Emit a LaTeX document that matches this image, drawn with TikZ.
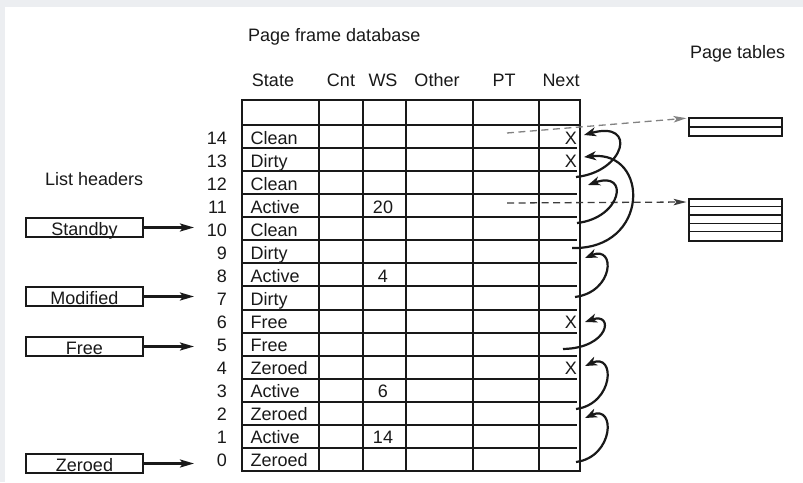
\documentclass[tikz,border=0pt]{standalone}
\usepackage{fontspec}
\setmainfont{Liberation Sans}
\usetikzlibrary{arrows.meta}
\definecolor{bggray}{RGB}{236,238,241}
\definecolor{ink}{RGB}{25,25,25}
\definecolor{dashgray}{RGB}{130,130,130}
\newcommand\fsz{\fontsize{18pt}{21pt}\selectfont}
\tikzset{
  txt/.style={inner sep=0pt, font=\fsz, text=ink},
  tline/.style={line width=2pt, draw=ink},
  hdrbox/.style={draw=ink, line width=1.8pt, minimum width=117pt, minimum height=19pt,
    inner sep=0pt, text height=15pt, text depth=0pt, font=\fsz, text=ink},
  harrow/.style={line width=2.5pt, draw=ink, -{Stealth[length=14pt,width=8pt,inset=3pt]}},
  nextarr/.style={line width=2.2pt, draw=ink, -{Stealth[length=12pt,width=9pt,inset=3.5pt]}},
  ptarr/.style={line width=1.3pt, dash pattern=on 7pt off 4.5pt, -{Stealth[length=13pt,width=6.5pt,inset=3pt]}},
  ptab/.style={draw=ink, line width=2pt, minimum width=93pt, inner sep=0pt},
}
\begin{document}
\begin{tikzpicture}[x=1pt,y=-1pt]
\useasboundingbox (0,0) rectangle (803,482);
\fill[bggray] (0,0) rectangle (803,482);
\fill[white] (5,7) rectangle (803,482);

% titles
\node[txt, anchor=base west] (title) at (248,41.5) {Page frame database};
\node[txt, anchor=base west] (pttitle) at (690,58.5) {Page tables};
\node[txt, anchor=base west] (lhtitle) at (45,185.5) {List headers};

% column headers
\foreach \cx/\nm/\tx in {273/hstate/State, 341/hcnt/Cnt, 383/hws/WS, 437/hother/Other, 504/hpt/PT, 561/hnext/Next}
  \node[txt, anchor=base] (\nm) at (\cx,86.5) {\tx};

% table grid
\foreach \vx in {242,319,363,406,473,539,580}
  \draw[tline] (\vx,100) -- (\vx,471);
\draw[tline] (241,100) -- (581,100);
\draw[tline] (242,125) -- (580,125);
\foreach \k in {1,...,14}{
  \pgfmathsetmacro\yy{125+\k*23.07}
  \draw[tline] (242,\yy) -- (577,\yy);
}
\draw[tline] (241,471) -- (581,471);

% rows
\foreach \r/\s/\w/\x in {14/Clean//X, 13/Dirty//X, 12/Clean//, 11/Active/20/, 10/Clean//,
  9/Dirty//, 8/Active/4/, 7/Dirty//, 6/Free//X, 5/Free//, 4/Zeroed//X, 3/Active/6/,
  2/Zeroed//, 1/Active/14/, 0/Zeroed//}{
  \pgfmathsetmacro\yb{125+(14-\r)*23.07+19}
  \node[txt, anchor=base east] (n\r) at (227,\yb) {\r};
  \node[txt, anchor=base west] (s\r) at (250.5,\yb) {\s};
  \node[txt, anchor=base] (w\r) at (383,\yb) {\w};
  \node[txt, anchor=base east] (x\r) at (577,\yb) {\x};
}

% list headers
\node[hdrbox] (standby) at (84.5,227.5) {Standby};
\node[hdrbox] (modified) at (84.5,296.5) {Modified};
\node[hdrbox] (free) at (84.5,346.5) {Free};
\node[hdrbox] (zeroed) at (84.5,463.5) {Zeroed};
\coordinate (a10) at (194,227.5);
\coordinate (a7) at (194,296.5);
\coordinate (a5) at (194,346.5);
\coordinate (a0) at (194,463.5);
\draw[harrow] (standby.east) -- (a10);
\draw[harrow] (modified.east) -- (a7);
\draw[harrow] (free.east) -- (a5);
\draw[harrow] (zeroed.east) -- (a0);

% page tables
\node[ptab, minimum height=18pt] (pt1) at (735.5,126.7) {};
\draw[line width=1.6pt, draw=ink] (pt1.west) -- (pt1.east);
\node[ptab, minimum height=41.7pt] (pt2) at (735.5,220.15) {};
\foreach \k in {1,...,4}
  \draw[line width=1.6pt, draw=ink] ([yshift=-\k*8.34pt]pt2.north west) -- ([yshift=-\k*8.34pt]pt2.north east);

\coordinate (p14) at (507,133);
\coordinate (p11) at (507,203);
\draw[ptarr, draw=dashgray, color=dashgray] (p14) -- ([shift={(-1.5,1.5)}]pt1.north west);
\draw[ptarr, draw=ink!85, color=ink!85] (p11) -- ([shift={(-1.5,3.7)}]pt2.north west);

% next pointers
\coordinate (s12) at (576,177);  \coordinate (t14) at (584,135);
\coordinate (s10) at (577,223);  \coordinate (t12) at (588,185);
\coordinate (s9)  at (572,248);  \coordinate (t13) at (584,157);
\coordinate (s7)  at (575,297);  \coordinate (t9)  at (585,258);
\coordinate (s5)  at (563,349);  \coordinate (t6)  at (585,322);
\coordinate (s2)  at (576,409);  \coordinate (t4)  at (585,366);
\coordinate (s0)  at (576,462);  \coordinate (t2)  at (585,418);
\draw[nextarr] (s12) .. controls (625,172) and (638,120) .. (t14);
\draw[nextarr] (s10) .. controls (622,218) and (630,170) .. (t12);
\draw[nextarr] (s9)  .. controls (650,250) and (650,150) .. (t13);
\draw[nextarr] (s7)  .. controls (614,292) and (616,245) .. (t9);
\draw[nextarr] (s5)  .. controls (610,348) and (614,312) .. (t6);
\draw[nextarr] (s2)  .. controls (614,404) and (616,352) .. (t4);
\draw[nextarr] (s0)  .. controls (614,457) and (616,404) .. (t2);
\end{tikzpicture}
\end{document}
